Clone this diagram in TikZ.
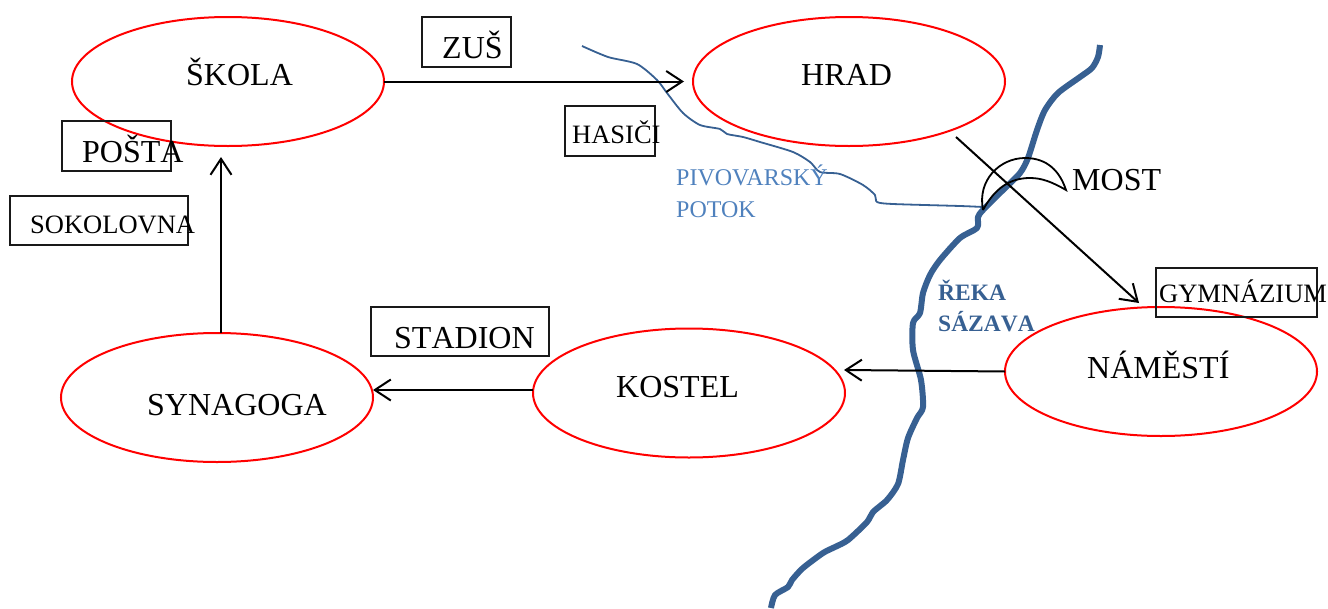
\documentclass[tikz,border=0pt]{standalone}
\usepackage{fontspec}
\setmainfont{Liberation Serif}
\usetikzlibrary{arrows.meta,shapes.geometric}
\definecolor{river}{HTML}{376092}
\definecolor{creek}{HTML}{4F81BD}
\tikzset{
  place/.style={ellipse,draw=red,line width=2pt,minimum width=312pt,minimum height=129pt,inner sep=0pt,outer sep=0pt},
  labelbox/.style={rectangle,draw=black!90,line width=2pt,inner sep=0pt,outer sep=0pt,anchor=north west},
  big/.style={anchor=base west,inner sep=0pt,font=\fontsize{32}{32}\selectfont},
  small/.style={anchor=base west,inner sep=0pt,font=\fontsize{26.5}{26.5}\selectfont},
  creektext/.style={anchor=base west,inner sep=0pt,text=creek,font=\fontsize{24}{24}\selectfont},
  rivertext/.style={anchor=base west,inner sep=0pt,text=river,font=\bfseries\fontsize{23.5}{23.5}\selectfont},
  conn/.style={draw=black,line width=2pt,-{Straight Barb[length=16pt,width=21pt,line width=2pt]}},
  sazava/.style={draw=river,line width=6pt,line join=round},
  potok/.style={draw=river,line width=1.8pt,line join=round},
  bridge/.style={draw=black,line width=1.8pt,line join=miter}
}
\begin{document}
\begin{tikzpicture}[x=1pt,y=-1pt]
\useasboundingbox (0,0) rectangle (1328,608);
% rivers
\draw[potok] plot[smooth,tension=0.45] coordinates {(582,46) (608,57) (637,64) (657,80) (667,93) (683,113) (700,125) (720,129) (727,134) (743,137) (760,142) (793,152) (810,162) (820,172) (840,174) (863,185) (875,195) (877,202) (893,204) (960,206) (983,207)};
\draw[sazava] plot[smooth,tension=0.45] coordinates {(1100,45) (1098,57) (1092,68) (1080,77) (1058,93) (1045,110) (1037,130) (1028,158) (1020,173) (1003,190) (983,210) (978,217) (977,228) (960,238) (940,260) (930,275) (923,293) (920,313) (913,323) (913,350) (921,380) (923,407) (917,418) (908,438) (903,460) (898,484) (887,500) (873,512) (867,522) (848,540) (835,547) (823,553) (803,568) (792,580) (788,587) (775,595) (771,608)};
% places
\node[place] (skola) at (228,81.5) {};
\node[place] (hrad) at (849,81.5) {};
\node[place] (namesti) at (1161,371.5) {};
\node[place] (kostel) at (689,393) {};
\node[place] (synagoga) at (217,397.5) {};
% place names
\node[big] (tskola) at (186,85) {ŠKOLA};
\node[big] (thrad) at (801,85) {HRAD};
\node[big] (tnamesti) at (1087,378) {NÁMĚSTÍ};
\node[big] (tkostel) at (616,397) {KOSTEL};
\node[big] (tsynagoga) at (147,415) {SYNAGOGA};
% boxes
\node[labelbox,minimum width=89pt,minimum height=50pt] (bzus) at (422,17) {};
\node[labelbox,minimum width=90pt,minimum height=50pt] (bhasici) at (565,106) {};
\node[labelbox,minimum width=109pt,minimum height=50pt] (bposta) at (62,121) {};
\node[labelbox,minimum width=178pt,minimum height=49pt] (bsokol) at (10,196) {};
\node[labelbox,minimum width=178pt,minimum height=49pt] (bstadion) at (371,307) {};
\node[labelbox,minimum width=161pt,minimum height=49pt] (bgym) at (1156,268) {};
\node[big] (tzus) at (442,58) {ZUŠ};
\node[small] (thasici) at (572,143) {HASIČI};
\node[big] (tposta) at (82,162) {\addfontfeatures{Kerning=Off}POŠTA};
\node[small] (tsokol) at (30,233) {SOKOLOVNA};
\node[big] (tstadion) at (394,348) {\addfontfeatures{Kerning=Off}STADION};
\node[small] (tgym) at (1159,302) {GYMNÁZIUM};
% free labels
\node[big] (tmost) at (1072,190) {MOST};
\node[creektext] (tpiv) at (676,185) {PIVOVARSKÝ};
\node[creektext] (tpot) at (676,217) {POTOK};
\node[rivertext] (trek) at (938,300) {ŘEKA};
\node[rivertext] (tsaz) at (938,331) {\addfontfeatures{Kerning=Off}SÁZAVA};
% bridge
\coordinate (bra) at (983,210);
\coordinate (brb) at (1066,190);
\draw[bridge] (bra) .. controls (977,180) and (1000,158) .. (1025,158) .. controls (1048,158) and (1060,172) .. (brb) .. controls (1052,182) and (1042,178) .. (1030,178) .. controls (1010,178) and (995,188) .. (bra);
% connectors
\draw[conn,shorten >=9pt] (skola.east) -- (hrad.west);
\draw[conn] ([yshift=3pt]kostel.west) -- ([yshift=7.5pt]synagoga.east);
\draw[conn,shorten >=-1pt] (namesti.west) -- ([yshift=23pt]kostel.east);
\coordinate (skolabot) at (221,157);
\coordinate (hradout) at (956,137);
\coordinate (namin) at (1139,303);
\draw[conn] ([xshift=4pt]synagoga.north) -- (skolabot);
\draw[conn] (hradout) -- (namin);
\end{tikzpicture}
\end{document}
